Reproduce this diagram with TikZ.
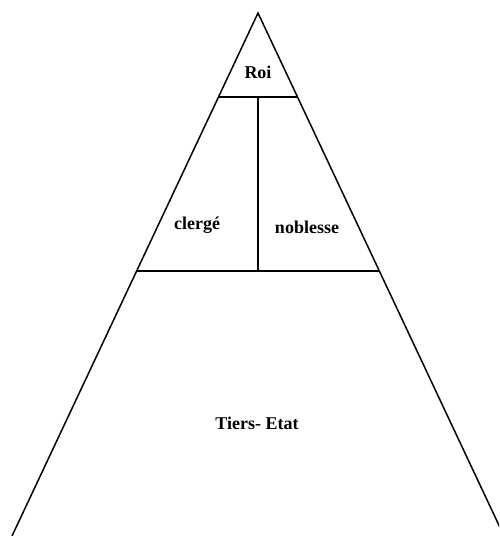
\documentclass[tikz,border=0pt]{standalone}
\usepackage{fontspec}
\setmainfont{Liberation Serif}
\usetikzlibrary{positioning, calc}

\begin{document}
\begin{tikzpicture}[x=1pt, y=-1pt, line width=1.5pt,
		etiquette/.style={font=\fontsize{18}{21}\selectfont\bfseries}]
			\useasboundingbox (0,0) rectangle (499,536);
			\clip (0,0) rectangle (499,536);
			% Sommets de la pyramide
			\coordinate (A) at (258,13);
			\coordinate (G) at (12,536);
			\coordinate (D) at (504,536);
			% Points des separations
			\coordinate (g1) at ($(A)!0.1606!(G)$);
			\coordinate (d1) at ($(A)!0.1606!(D)$);
			\coordinate (g2) at ($(A)!0.4933!(G)$);
			\coordinate (d2) at ($(A)!0.4933!(D)$);
			\coordinate (h) at ($(g1)!0.5!(d1)$);
			\coordinate (b) at ($(g2)!0.5!(d2)$);
			\draw (G) -- (A) -- (D);
			\draw (g1) -- (d1);
			\draw (g2) -- (d2);
			\draw (h) -- (b);
			% Ordres
			\node[etiquette] (roi) at (258,72) {Roi};
			\node[etiquette] (clerge) at (197,225) {clergé};
			\node[etiquette] (noblesse) at (307,227) {noblesse};
			\node[etiquette] (tiers) at (257,423) {Tiers- Etat};
		\end{tikzpicture}
\end{document}
